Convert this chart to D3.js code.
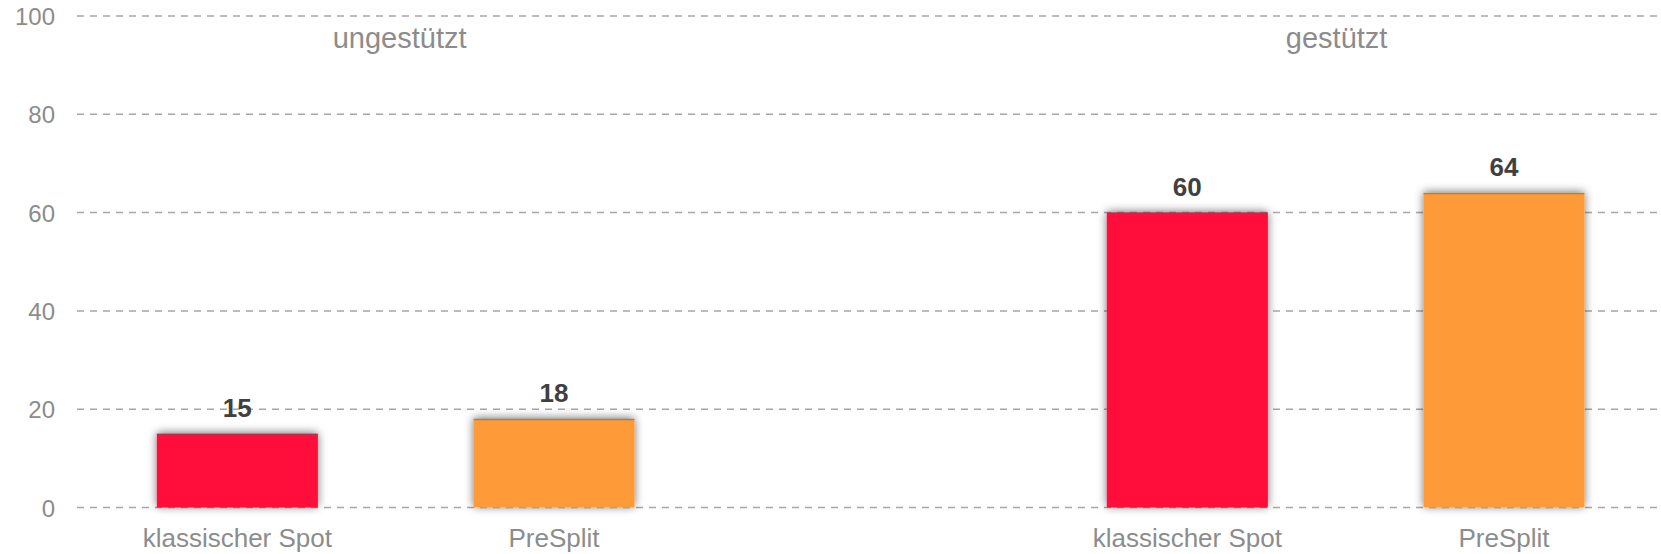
<!DOCTYPE html>
<html>
<head>
<meta charset="utf-8">
<script src="https://cdn.jsdelivr.net/npm/d3@7"></script>
<style>
  html, body { margin: 0; padding: 0; background: #ffffff; }
  svg { display: block; font-family: "Liberation Sans", Arial, sans-serif; }
</style>
</head>
<body>
<svg id="chart" width="1661" height="554"></svg>
<script>
// ---- data ----
const groups = ["ungestützt", "gestützt"];
const categories = ["klassischer Spot", "PreSplit"];
const valuesUngestuetzt = [15, 18];
const valuesGestuetzt = [60, 64];
const yTicks = [0, 20, 40, 60, 80, 100];
const colors = ["#ff073b", "#fe9b38"];

const groupValues = [valuesUngestuetzt, valuesGestuetzt];
const data = [];
groups.forEach((g, gi) => {
  categories.forEach((c, ci) => {
    data.push({ group: g, gi, category: c, value: groupValues[gi][ci], ci });
  });
});

// ---- layout ----
const W = 1661, H = 554;
const left = 79, right = 1662.3;
const titleShift = [4, -9];
const yScale = d3.scaleLinear().domain([0, 100]).range([507.5, 16]);

const x0 = d3.scaleBand().domain(groups).range([left, right])
  .paddingInner(1 / 3).paddingOuter(0);
const x1 = d3.scaleBand().domain(categories).range([0, x0.bandwidth()])
  .paddingInner(0.4916).paddingOuter(0.4916 / 2);

const svg = d3.select("#chart");

const defs = svg.append("defs");
const f = defs.append("filter").attr("id", "shadow")
  .attr("x", "-20%").attr("y", "-40%").attr("width", "140%").attr("height", "180%");
f.append("feGaussianBlur").attr("in", "SourceAlpha").attr("stdDeviation", 5).attr("result", "blur");
f.append("feOffset").attr("in", "blur").attr("dx", 0).attr("dy", -1).attr("result", "off");
f.append("feComponentTransfer").attr("in", "off").attr("result", "soft")
  .append("feFuncA").attr("type", "linear").attr("slope", 0.55);
const m = f.append("feMerge");
m.append("feMergeNode").attr("in", "soft");
m.append("feMergeNode").attr("in", "SourceGraphic");

// y axis labels
const yAxis = d3.axisLeft(yScale).tickValues(yTicks).tickSize(0).tickPadding(0);
const gAxis = svg.append("g").attr("transform", `translate(55,0)`).call(yAxis);
gAxis.select(".domain").remove();
gAxis.selectAll("text")
  .attr("x", 0).attr("dy", "0.36em")
  .style("font-size", "24px").style("fill", "#8c8c8c")
  .style("font-family", "'Liberation Sans', Arial, sans-serif");

// gridlines
svg.append("g").selectAll("line").data(yTicks).join("line")
  .attr("x1", 77).attr("x2", W)
  .attr("y1", d => yScale(d)).attr("y2", d => yScale(d))
  .attr("stroke", "#a6a6a6").attr("stroke-width", 1.5)
  .attr("stroke-dasharray", "7,6");

// bars
const gGroups = svg.append("g").selectAll("g").data(groups).join("g")
  .attr("transform", d => `translate(${x0(d)},0)`);

gGroups.selectAll("rect").data(g => data.filter(d => d.group === g)).join("rect")
  .attr("x", d => x1(d.category))
  .attr("width", x1.bandwidth())
  .attr("y", d => yScale(d.value))
  .attr("height", d => yScale(0) - yScale(d.value))
  .attr("fill", d => colors[d.ci])
  .attr("filter", "url(#shadow)");

// top edge line of bars
gGroups.selectAll("line.top").data(g => data.filter(d => d.group === g)).join("line")
  .attr("class", "top")
  .attr("x1", d => x1(d.category)).attr("x2", d => x1(d.category) + x1.bandwidth())
  .attr("y1", d => yScale(d.value) + 0.5).attr("y2", d => yScale(d.value) + 0.5)
  .attr("stroke", "rgba(90,90,90,0.45)").attr("stroke-width", 1.5);

// value labels
gGroups.selectAll("text.val").data(g => data.filter(d => d.group === g)).join("text")
  .attr("class", "val")
  .attr("x", d => x1(d.category) + x1.bandwidth() / 2)
  .attr("y", d => yScale(d.value) - 17)
  .attr("text-anchor", "middle")
  .style("font-size", "26px").style("font-weight", "bold").style("fill", "#404040")
  .text(d => d3.format(".0f")(d.value));

// category labels
gGroups.selectAll("text.cat").data(g => data.filter(d => d.group === g)).join("text")
  .attr("class", "cat")
  .attr("x", d => x1(d.category) + x1.bandwidth() / 2)
  .attr("y", 547)
  .attr("text-anchor", "middle")
  .style("font-size", "26px").style("fill", "#8c8c8c")
  .text(d => d.category);

// group titles
gGroups.append("text")
  .attr("x", (d, i) => x0.bandwidth() / 2 + titleShift[groups.indexOf(d)])
  .attr("y", 48)
  .attr("text-anchor", "middle")
  .style("font-size", "29px").style("fill", "#8c8c8c")
  .text(d => d);
</script>
</body>
</html>
